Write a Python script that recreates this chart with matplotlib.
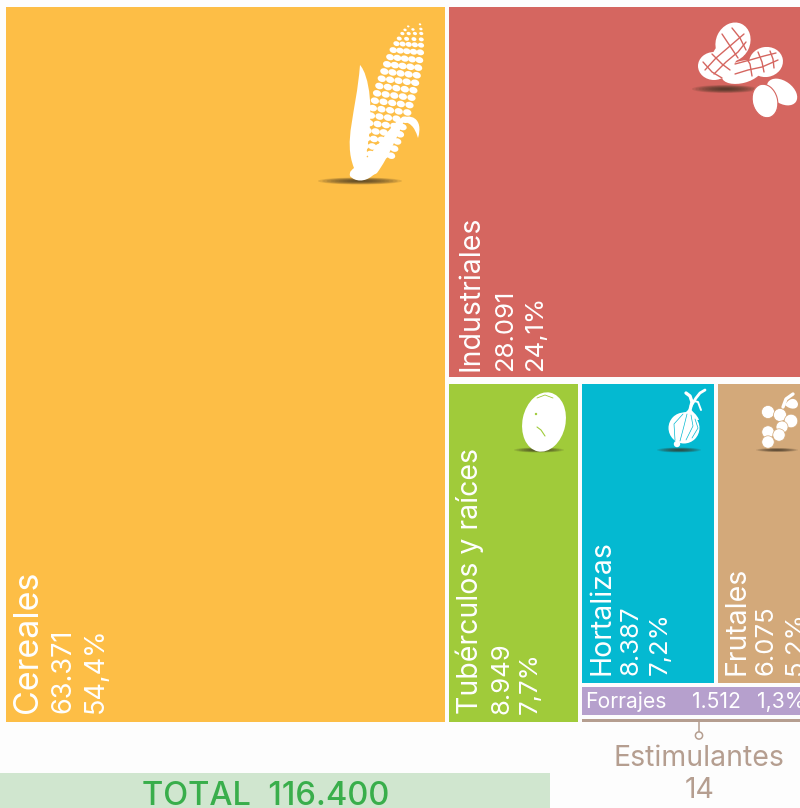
import numpy as np
import matplotlib
matplotlib.use("Agg")
import matplotlib.pyplot as plt
from matplotlib.patches import Rectangle, Ellipse, Circle, PathPatch
from matplotlib.path import Path

# ---- data ----
categories = ["Cereales", "Industriales", "Tubérculos y raíces", "Hortalizas", "Frutales", "Forrajes", "Estimulantes"]
values = [63371, 28091, 8949, 8387, 6075, 1512, 14]
value_labels = ["63.371", "28.091", "8.949", "8.387", "6.075", "1.512", "14"]
pct_labels = ["54,4%", "24,1%", "7,7%", "7,2%", "5,2%", "1,3%", ""]
total_label = "TOTAL  116.400"

# ---- style ----
colors = ["#FDBE46", "#D56660", "#A0CB3A", "#04B9D1", "#D3A97A", "#B6A0CD", "#B59E90"]
FONT = ["Inter", "DejaVu Sans"]
W = 800; H = 808
plt.rcParams["font.family"] = FONT
fig = plt.figure(figsize=(8, 8.08), dpi=100, facecolor="#FDFDFD")
ax = fig.add_axes([0, 0, 1, 1])
ax.set_xlim(0, W); ax.set_ylim(H, 0); ax.axis("off")

# ---- treemap layout from the values (slice and dice), px canvas ----
X0, Y0, TW, TH = 4.0, 5.0, 814.0, 719.0
GAP = 2.0
def layout(v):
    v = np.asarray(v, float)
    tot = v.sum()
    x1 = X0 + TW * v[0] / tot                       # Cereales | rest
    rest = tot - v[0]
    y1 = Y0 + TH * v[1] / rest - 4                  # Industriales above
    rest2 = rest - v[1]
    xr = X0 + TW
    x2 = x1 + (xr - x1) * v[2] / rest2 - 0.7        # Tubérculos | rest
    rest3 = rest2 - v[2]
    yb = Y0 + TH
    y2 = y1 + (yb - y1) * (v[3] + v[4]) / rest3 - 6 # Hort+Frut above
    x3 = x2 + (xr - x2) * v[3] / (v[3] + v[4]) - 2
    y3 = yb - 7                                     # hairline category gets a visible strip
    return [(X0, Y0, x1, yb), (x1, Y0, xr, y1 - 3), (x1, y1, x2, yb),
            (x2, y1, x3, y2), (x3, y1, xr, y2), (x2, y2, xr, y3), (x2, y3, xr, yb)]

rects = layout(values)
for (a, b, c, d), col in zip(rects, colors):
    ax.add_patch(Rectangle((a + GAP, b + GAP), c - a - 2 * GAP, d - b - 2 * GAP,
                           fc=col, ec="none", zorder=2))

# ---- labels ----
def vtext(x, y, s, size):
    ax.text(x, y, s, rotation=90, rotation_mode="anchor", ha="left", va="baseline",
            color="white", fontsize=size, zorder=5)

# baseline x offsets from the rectangle's left edge, bottom offset, sizes
spec = [(31, 64, 97, 9, 24.5, 19.5), (29, 63, 93, 6, 20.5, 18.5), (29, 59, 88, 8, 20.5, 18.5),
        (28, 56, 85, 8, 20.5, 18.5), (27, 55, 84, 8, 20.5, 18.5)]
for i, (o1, o2, o3, bo, s1, s2) in enumerate(spec):
    a, b, c, d = rects[i]
    x = a + GAP; y = d - GAP - bo
    vtext(x + o1, y, categories[i], s1)
    vtext(x + o2, y, value_labels[i], s2)
    vtext(x + o3, y, pct_labels[i], s2)

a, b, c, d = rects[5]
ymid = (b + d) / 2 + 0.5
for off, s in zip((4, 110, 175), (categories[5], value_labels[5], pct_labels[5])):
    ax.text(a + GAP + off, ymid, s, color="white", fontsize=15.2,
            ha="left", va="center", zorder=5)

TAUPE = colors[6]
ax.plot([699, 699], [722, 732], color=TAUPE, lw=1.1, zorder=3)
ax.add_patch(Circle((699, 735.5), 3.6, fc="#FDFDFD", ec=TAUPE, lw=1.1, zorder=4))
ax.text(699, 766, categories[6], color=TAUPE, fontsize=20.5, ha="center", va="baseline")
ax.text(700, 798, value_labels[6], color=TAUPE, fontsize=20.5, ha="center", va="baseline")

ax.add_patch(Rectangle((0, 773), 550, 35, fc="#D0E6CF", ec="none", zorder=2))
ax.text(266, 805, total_label, color="#39AE4B", fontsize=23.5, fontweight="medium",
        ha="center", va="baseline", zorder=3)

# ---- pictograms (decoration, not data) ----
def shadow(cx, cy, w, h=6, n=10):
    for k in range(n):
        f = 1 - k / n
        ax.add_patch(Ellipse((cx, cy), w * f, h * f, fc="#3a3020", ec="none", alpha=0.14, zorder=3))

def smooth(pts, col="white", z=4):
    verts = [pts[0]]; codes = [Path.MOVETO]
    for i in range(1, len(pts) - 2, 3):
        verts += pts[i:i + 3]; codes += [Path.CURVE4] * 3
    ax.add_patch(PathPatch(Path(verts, codes), fc=col, ec="none", zorder=z))

def line(pts, col, lw=1.0, z=5):
    p = np.array(pts); ax.plot(p[:, 0], p[:, 1], color=col, lw=lw, solid_capstyle="round", zorder=z)

# corn
shadow(360, 181, 84, 7)
base = np.array([376.0, 160.0]); tip = np.array([414.5, 24.0])
axis = (tip - base) / np.linalg.norm(tip - base); perp = np.array([-axis[1], axis[0]])
ang = np.degrees(np.arctan2(axis[1], axis[0]))
L = np.linalg.norm(tip - base)
for t, ncol, sz in zip(np.concatenate([np.linspace(0.04, 0.80, 15), [0.85, 0.89, 0.93, 0.96, 0.99]]),
                       [5] * 15 + [5, 4, 4, 3, 2], [1] * 13 + [.95, .9, .75, .6, .5, .4, .3]):
    prof = 21 * np.sqrt(max(0.02, 1 - ((t - 0.42) / 0.6) ** 2))
    for j in np.linspace(-1, 1, ncol):
        c = base + axis * (L * t + 2.6 * j) + perp * j * prof * 0.82
        ax.add_patch(Ellipse(c, 6.4 * sz, 8.4 * sz, angle=ang, fc="white", ec="none", zorder=3.5))
smooth([(360, 65), (369, 75), (375, 110), (366, 155), (372, 170), (378, 172), (372, 176),
        (365, 182), (355, 182), (350, 176), (349, 171), (352, 170), (354, 168), (343, 140), (356, 115), (360, 65)])
smooth([(365, 160), (378, 146), (388, 130), (398, 120), (410, 112), (424, 118), (418, 138),
        (414, 125), (410, 124), (404, 121), (398, 135), (388, 158), (377, 173), (370, 178), (362, 175), (365, 160)])

# peanut
RED = colors[1]
shadow(725, 89, 66, 8)
for (cx, cy, w, h, an) in [(733, 42, 34, 40, 25), (714, 66, 32, 28, 0), (725, 56, 24, 28, 40),
                           (766, 62, 34, 30, -10), (742, 72, 42, 22, -15)]:
    ax.add_patch(Ellipse((cx, cy), w, h, angle=an, fc="white", ec="none", zorder=4))
for p in ([(705, 70), (716, 58), (730, 46), (744, 34)], [(714, 74), (726, 62), (738, 52), (746, 42)],
          [(703, 62), (712, 72), (722, 78)], [(712, 54), (722, 64), (730, 70)],
          [(722, 34), (730, 46), (738, 58)], [(732, 28), (740, 38), (746, 50)],
          [(735, 74), (748, 70), (762, 67), (778, 60)], [(735, 64), (750, 60), (764, 56), (776, 53)],
          [(745, 56), (750, 64), (752, 76)], [(758, 52), (762, 62), (764, 72)], [(770, 51), (773, 59), (774, 68)]):
    line(p, RED, 1.0)
ax.add_patch(Ellipse((765, 101), 34, 25, angle=75, fc="white", ec=RED, lw=0.8, zorder=6))
ax.add_patch(Ellipse((782, 92), 34, 22, angle=36, fc="white", ec="none", zorder=5.5))

# potato
shadow(539, 450, 50, 5)
ax.add_patch(Ellipse((544, 422), 43, 60, angle=12, fc="white", ec="none", zorder=4))
line([(537, 427), (541, 430), (545, 436)], colors[2], 0.8)
ax.add_patch(Circle((536, 414), 1.2, fc=colors[2], ec="none", zorder=5))
line([(537, 398), (545, 395), (553, 398)], colors[2], 0.6)

# onion
BLUE = colors[3]
shadow(679, 450, 44, 5)
ax.add_patch(Ellipse((684, 428), 31, 31, fc="white", ec="none", zorder=4))
smooth([(690, 408), (692, 412), (697, 414), (699, 420), (680, 420), (675, 414), (686, 412), (688, 410), (690, 408)])
ax.add_patch(Circle((677, 444), 3.2, fc="white", ec="none", zorder=4))
line([(690, 410), (692, 402), (690, 396), (686, 393)], "white", 2.4)
line([(691, 406), (696, 398), (700, 393), (705, 390)], "white", 2.0)
line([(694, 401), (698, 402), (701, 410)], "white", 1.4)
for p in ([(683, 414), (674, 424), (675, 440)], [(687, 414), (684, 426), (680, 441)],
          [(691, 415), (693, 426), (686, 440)], [(695, 419), (698, 428), (692, 438)]):
    line(p, BLUE, 0.5)

# grapes
TAN = colors[4]
shadow(777, 450, 42, 4)
line([(783, 407), (786, 399), (793, 394)], "white", 2.4)
smooth([(785, 405), (790, 396), (797, 398), (798, 404), (798, 410), (790, 410), (785, 405)])
for (x, y, r) in [(768, 412, 6.5), (780, 415, 6.5), (791, 421, 6.8), (768, 432, 6.2),
                  (782, 427, 6.0), (779, 435, 6.2), (768, 442, 6.2)]:
    ax.add_patch(Circle((x, y), r, fc="white", ec=TAN, lw=0.5, zorder=4))

fig.savefig("out.png", dpi=100, facecolor=fig.get_facecolor())
